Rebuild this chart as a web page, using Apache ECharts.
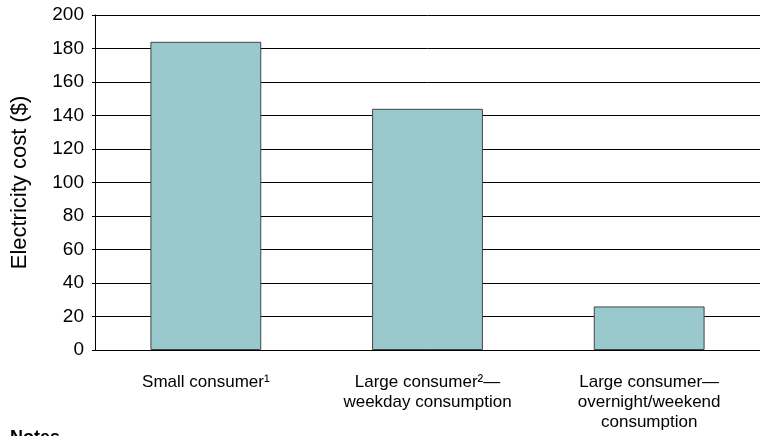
<!DOCTYPE html>
<html><head><meta charset="utf-8">
<script src="https://cdn.jsdelivr.net/npm/echarts@6/dist/echarts.min.js"></script>
<style>html,body{margin:0;padding:0;background:#fff}#c{width:760px;height:436px}</style>
</head><body><div id="c"></div>
<script>
var categories = ["Small consumer\u00B9", "Large consumer\u00B2\u2014\nweekday consumption", "Large consumer\u2014\novernight/weekend\nconsumption"];
var costValues = [184, 144, 26];
var yTicks = {min: 0, max: 200, interval: 20};

var chart = echarts.init(document.getElementById('c'));
chart.setOption({
  animation: false,
  grid: {left: 95, right: 0, top: 15, bottom: 86},
  xAxis: {
    type: 'category', data: categories,
    axisLine: {lineStyle: {color: '#000', width: 1}},
    axisTick: {show: false},
    axisLabel: {color: '#000', fontFamily: 'Liberation Sans, Arial', fontSize: 17, lineHeight: 20, margin: 22, interval: 0}
  },
  yAxis: {
    type: 'value', min: yTicks.min, max: yTicks.max, interval: yTicks.interval,
    name: 'Electricity cost ($)', nameLocation: 'middle', nameGap: 64, nameRotate: 90,
    nameTextStyle: {color: '#000', fontFamily: 'Liberation Sans, Arial', fontSize: 22},
    axisLine: {show: true, lineStyle: {color: '#000', width: 1}},
    axisTick: {show: true, length: 3, lineStyle: {color: '#000'}},
    axisLabel: {color: '#000', fontFamily: 'Liberation Sans, Arial', fontSize: 19, margin: 11},
    splitLine: {lineStyle: {color: '#000', width: 1}}
  },
  series: [{
    type: 'bar', data: costValues, barWidth: '50%',
    itemStyle: {color: '#99C9CC', borderColor: '#444', borderWidth: 1}
  }],
  graphic: [{
    type: 'text', left: 10, top: 429,
    style: {text: 'Notes', fill: '#000', font: 'bold 18px "Liberation Sans", Arial'}
  }]
});
</script></body></html>
